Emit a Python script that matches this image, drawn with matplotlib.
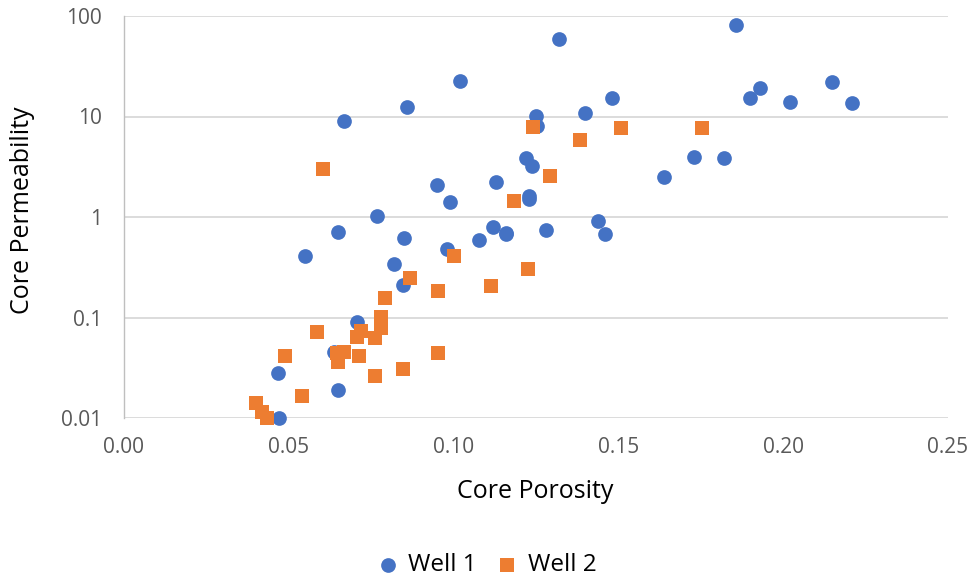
import matplotlib
matplotlib.use("Agg")
import matplotlib.pyplot as plt
from matplotlib.ticker import FixedLocator, FixedFormatter, NullLocator

plt.rcParams["font.family"] = ["Open Sans", "DejaVu Sans"]

# Well 1 (blue circles)
well1_porosity = [
    0.1856, 0.1319, 0.1018, 0.0859, 0.0667, 0.148, 0.1399, 0.1249, 0.1252,
    0.1219, 0.1239, 0.1129, 0.0949, 0.0989, 0.1229, 0.1229, 0.0768, 0.1119,
    0.1159, 0.1159, 0.1279, 0.1439, 0.1459, 0.1078, 0.0648, 0.0849, 0.0548,
    0.0979, 0.0818, 0.0847, 0.0708, 0.0637, 0.0468, 0.0648, 0.0470, 0.1639,
    0.1729, 0.182, 0.190, 0.1929, 0.202, 0.2149, 0.221,
]
well1_perm = [
    81, 59, 22.5, 12.4, 9.0, 15.2, 10.8, 10.2, 8.1,
    3.9, 3.24, 2.21, 2.08, 1.42, 1.62, 1.50, 1.03, 0.80,
    0.70, 0.68, 0.74, 0.91, 0.67, 0.59, 0.71, 0.62, 0.41,
    0.48, 0.34, 0.21, 0.0895, 0.0457, 0.0282, 0.019, 0.01, 2.51,
    3.98, 3.86, 15.2, 19.0, 14.0, 21.9, 13.5,
]

# Well 2 (orange squares)
well2_porosity = [
    0.0604, 0.1241, 0.1507, 0.1754, 0.1383, 0.1292, 0.1183, 0.1001, 0.0868,
    0.0954, 0.0793, 0.1225, 0.1113, 0.0779, 0.0779, 0.0585, 0.0718, 0.0708,
    0.0761, 0.0488, 0.0645, 0.0668, 0.065, 0.0712, 0.0847, 0.0761, 0.0954,
    0.054, 0.040, 0.0418, 0.0433,
]
well2_perm = [
    2.98, 7.9, 7.6, 7.6, 5.8, 2.57, 1.45, 0.41, 0.245,
    0.184, 0.157, 0.302, 0.207, 0.102, 0.078, 0.072, 0.073, 0.064,
    0.062, 0.041, 0.044, 0.0457, 0.036, 0.041, 0.031, 0.026, 0.044,
    0.0166, 0.014, 0.0116, 0.01,
]

x_ticks = [0.0, 0.05, 0.10, 0.15, 0.20, 0.25]
x_tick_labels = ["0.00", "0.05", "0.10", "0.15", "0.20", "0.25"]
y_ticks = [0.01, 0.1, 1, 10, 100]
y_tick_labels = ["0.01", "0.1", "1", "10", "100"]

fig = plt.figure(figsize=(9.74, 5.84), dpi=100)
ax = fig.add_axes([124 / 974, 166 / 584, 824 / 974, 402 / 584])

ax.scatter(well1_porosity, well1_perm, s=112, marker="o", color="#4472C4",
           linewidths=0, label="Well 1", clip_on=False, zorder=3)
ax.scatter(well2_porosity, well2_perm, s=100, marker="s", color="#ED7D31",
           linewidths=0, label="Well 2", clip_on=False, zorder=3)

ax.set_yscale("log")
ax.set_xlim(0, 0.25)
ax.set_ylim(0.01, 100)
ax.xaxis.set_major_locator(FixedLocator(x_ticks))
ax.xaxis.set_major_formatter(FixedFormatter(x_tick_labels))
ax.yaxis.set_major_locator(FixedLocator(y_ticks))
ax.yaxis.set_major_formatter(FixedFormatter(y_tick_labels))
ax.yaxis.set_minor_locator(NullLocator())

ax.grid(axis="y", color="#D9D9D9", linewidth=1.3, zorder=0)
ax.set_axisbelow(True)
for side in ["top", "right", "bottom"]:
    ax.spines[side].set_visible(False)
ax.spines["left"].set_color("#BFBFBF")
ax.spines["left"].set_linewidth(1.0)
ax.tick_params(length=0, labelsize=15, colors="#595959")
ax.tick_params(axis="x", pad=14)
ax.tick_params(axis="y", pad=16)

ax.set_xlabel("Core Porosity", fontsize=18, va="center")
ax.xaxis.set_label_coords(0.4994, -0.184)
ax.set_ylabel("Core Permeability", fontsize=18, va="center")
ax.yaxis.set_label_coords(-0.1226, 0.517)

fig.legend(loc="center", bbox_to_anchor=(0.493, 1 - 565 / 584),
           ncol=2, frameon=False, fontsize=17.5, handletextpad=-0.15,
           columnspacing=0.25, markerscale=1.0)

fig.savefig("out.png", dpi=100)
